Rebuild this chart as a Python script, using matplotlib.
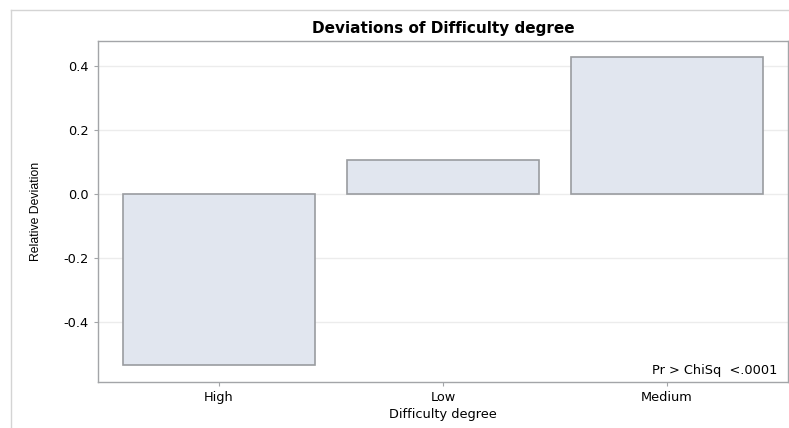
import matplotlib
matplotlib.use("Agg")
import matplotlib.pyplot as plt
from matplotlib.lines import Line2D

# data
categories = ["High", "Low", "Medium"]
deviation = [-0.534, 0.106, 0.428]
y_ticks = [-0.4, -0.2, 0.0, 0.2, 0.4]
y_ticklabels = ["-0.4", "-0.2", "0.0", "0.2", "0.4"]

plt.rcParams["font.family"] = ["DejaVu Sans"]

W, H = 789, 428
fig = plt.figure(figsize=(W / 100, H / 100), dpi=100)
ax = fig.add_axes([98 / W, 1 - 382 / H, (788 - 98) / W, (382 - 41) / H])

# outer frame (left + top)
fig.add_artist(Line2D([11 / W, 11 / W], [0, 1 - 10 / H], transform=fig.transFigure,
                      color="#d4d4d4", lw=1))
fig.add_artist(Line2D([11 / W, 1], [1 - 10 / H, 1 - 10 / H], transform=fig.transFigure,
                      color="#d4d4d4", lw=1))

x = range(len(categories))
ax.bar(x, deviation, width=0.855, color="#e1e6ef", edgecolor="#9a9ca0", linewidth=1.2, zorder=3)

ax.set_xlim(-0.54, 2.54)
ax.set_ylim(-0.5875, 0.478)
ax.set_yticks(y_ticks)
ax.set_yticklabels(y_ticklabels)
ax.set_xticks(list(x))
ax.set_xticklabels(categories)

ax.grid(axis="y", color="#ececec", linewidth=1, zorder=0)
for s in ax.spines.values():
    s.set_color("#a3a5a8")
    s.set_linewidth(1)
ax.tick_params(axis="both", colors="#a3a5a8", labelcolor="black", labelsize=9.3, length=3)

ax.set_title("Deviations of Difficulty degree", fontsize=11, fontweight="bold", pad=6)
ax.set_xlabel("Difficulty degree", fontsize=9.3, labelpad=3)
ax.set_ylabel("Relative Deviation", fontsize=8.8, fontstretch="condensed",
              family=["Liberation Sans Narrow", "Liberation Sans", "DejaVu Sans"])
ax.yaxis.set_label_coords((42 - 98) / (788 - 98), 0.5)

ax.text(0.985, 0.015, "Pr > ChiSq  <.0001", transform=ax.transAxes,
        ha="right", va="bottom", fontsize=9.3)

fig.savefig("out.png", dpi=100)
